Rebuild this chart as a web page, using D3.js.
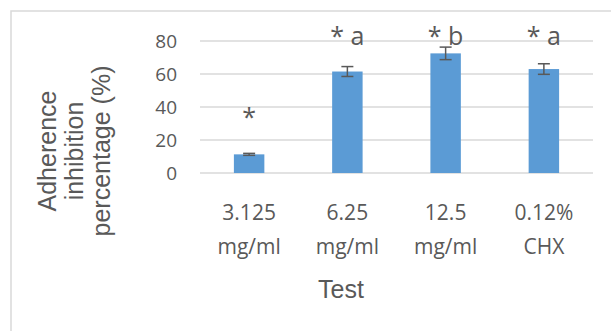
<!DOCTYPE html>
<html>
<head>
<meta charset="utf-8">
<script src="https://cdn.jsdelivr.net/npm/d3@7/dist/d3.min.js"></script>
<style>
  body { margin: 0; background: #fff; }
  svg text { fill: #595959; }
</style>
</head>
<body>
<div id="chart"></div>
<script>
var categories = [["3.125", "mg/ml"], ["6.25", "mg/ml"], ["12.5", "mg/ml"], ["0.12%", "CHX"]];
var values = [11.3, 61.5, 72.5, 63];
var errors = [0.6, 3, 3.8, 3.2];
var marks = ["*", "* a", "* b", "* a"];
var yTicks = [0, 20, 40, 60, 80];

var svgWidth = 611, svgHeight = 331;
var margin = { top: 41, right: 18, bottom: 158, left: 200 };
var width = svgWidth - margin.left - margin.right;
var height = svgHeight - margin.top - margin.bottom;

var svg = d3.select("#chart").append("svg")
    .attr("width", svgWidth)
    .attr("height", svgHeight);

// outer chart border (runs off the right and bottom edges)
svg.append("rect")
    .attr("x", 11).attr("y", 11)
    .attr("width", 640).attr("height", 360)
    .attr("fill", "none")
    .attr("stroke", "#d9d9d9")
    .attr("stroke-width", 1.5);

var x = d3.scaleBand().domain(d3.range(categories.length)).range([0, width]).paddingInner(0.69).paddingOuter(0.345);
var y = d3.scaleLinear().domain([0, 80]).range([height, 0]);

var g = svg.append("g").attr("transform", "translate(" + margin.left + "," + margin.top + ")");

g.selectAll(".grid").data(yTicks).enter().append("line")
    .attr("x1", 0).attr("x2", width)
    .attr("y1", function (d) { return y(d); })
    .attr("y2", function (d) { return y(d); })
    .attr("stroke", "#d9d9d9")
    .attr("stroke-width", 1.5);

g.selectAll(".ytick").data(yTicks).enter().append("text")
    .attr("x", -23)
    .attr("y", function (d) { return y(d); })
    .attr("dy", "0.36em")
    .attr("text-anchor", "end")
    .style("font", "19px 'Open Sans', sans-serif")
    .text(function (d) { return d; });

g.selectAll(".bar").data(values).enter().append("rect")
    .attr("x", function (d, i) { return x(i); })
    .attr("y", function (d) { return y(d); })
    .attr("width", x.bandwidth())
    .attr("height", function (d) { return height - y(d); })
    .attr("fill", "#5b9bd5");

var eb = g.selectAll(".err").data(values).enter().append("g")
    .attr("stroke", "#595959").attr("stroke-width", 1.5);
eb.append("line")
    .attr("x1", function (d, i) { return x(i) + x.bandwidth() / 2; })
    .attr("x2", function (d, i) { return x(i) + x.bandwidth() / 2; })
    .attr("y1", function (d, i) { return y(d - errors[i]); })
    .attr("y2", function (d, i) { return y(d + errors[i]); });
[-1, 1].forEach(function (s) {
    eb.append("line")
        .attr("x1", function (d, i) { return x(i) + x.bandwidth() / 2 - 6; })
        .attr("x2", function (d, i) { return x(i) + x.bandwidth() / 2 + 6; })
        .attr("y1", function (d, i) { return y(d + s * errors[i]); })
        .attr("y2", function (d, i) { return y(d + s * errors[i]); });
});

g.selectAll(".mark").data(marks).enter().append("text")
    .attr("x", function (d, i) { return x(i) + x.bandwidth() / 2; })
    .attr("y", function (d, i) { return i === 0 ? y(values[i]) - 28 : 4; })
    .attr("text-anchor", "middle")
    .style("font", "25px 'Open Sans', sans-serif")
    .text(function (d) { return d; });

var xl = g.selectAll(".xlab").data(categories).enter().append("text")
    .attr("x", function (d, i) { return x(i) + x.bandwidth() / 2; })
    .attr("text-anchor", "middle")
    .style("font", "21px 'Open Sans', sans-serif");
xl.append("tspan").attr("x", function (d, i) { return x(i) + x.bandwidth() / 2; })
    .attr("y", height + 47).text(function (d) { return d[0]; });
xl.append("tspan").attr("x", function (d, i) { return x(i) + x.bandwidth() / 2; })
    .attr("y", height + 81).text(function (d) { return d[1]; });

svg.append("text")
    .attr("x", 341)
    .attr("y", 298)
    .attr("text-anchor", "middle")
    .style("font", "25px 'Liberation Sans', Arial, sans-serif")
    .text("Test");

var yt = svg.append("text")
    .attr("transform", "translate(0,151) rotate(-90)")
    .attr("text-anchor", "middle")
    .style("font", "25px 'Liberation Sans', Arial, sans-serif");
["Adherence", "inhibition", "percentage (%)"].forEach(function (t, i) {
    yt.append("tspan").attr("x", 0).attr("y", 56 + i * 27).text(t);
});
</script>
</body>
</html>
